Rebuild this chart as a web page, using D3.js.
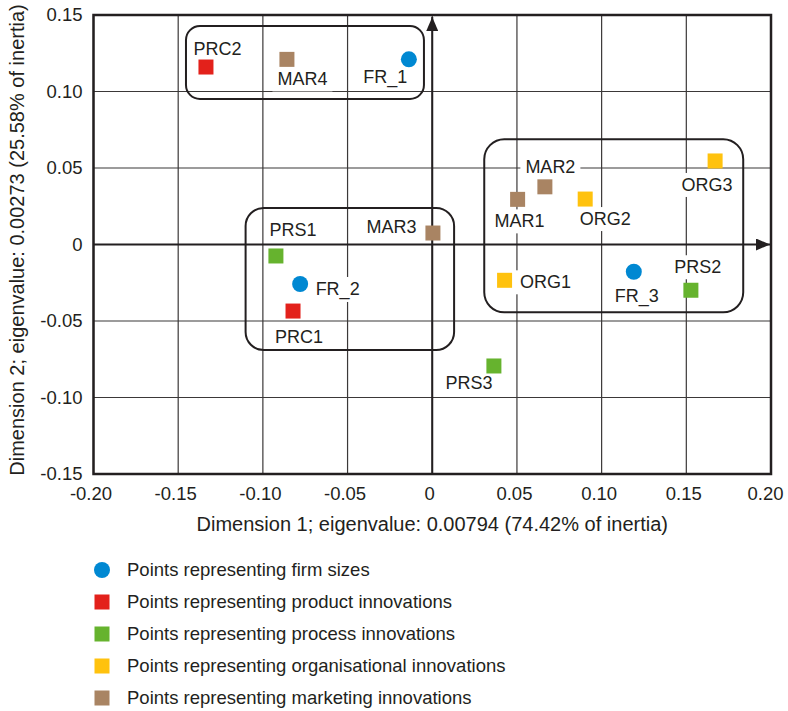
<!DOCTYPE html>
<html>
<head>
<meta charset="utf-8">
<script src="https://cdn.jsdelivr.net/npm/d3@7"></script>
<style>
  body { margin: 0; background: #fff; }
  svg text { font-family: Arial, "Liberation Sans", sans-serif; fill: #231f20; }
</style>
</head>
<body>
<div id="chart"></div>
<script>
// points of the correspondence map
var names = ["FR_1", "FR_2", "FR_3", "PRC1", "PRC2", "PRS1", "PRS2", "PRS3",
             "ORG1", "ORG2", "ORG3", "MAR1", "MAR2", "MAR3", "MAR4"];
var dim1 = [-0.0138, -0.078, 0.119, -0.0822, -0.1336, -0.0923, 0.1527, 0.0364,
            0.0427, 0.0903, 0.167, 0.0504, 0.0665, 0.0004, -0.0858];
var dim2 = [0.121, -0.0258, -0.0178, -0.0435, 0.116, -0.0075, -0.0299, -0.0794,
            -0.0234, 0.0297, 0.0546, 0.0295, 0.0377, 0.0075, 0.121];
var kinds = ["firm", "firm", "firm", "product", "product", "process", "process", "process",
             "org", "org", "org", "marketing", "marketing", "marketing", "marketing"];

var legendKeys = ["firm", "product", "process", "org", "marketing"];
var legendTexts = ["Points representing firm sizes",
                   "Points representing product innovations",
                   "Points representing process innovations",
                   "Points representing organisational innovations",
                   "Points representing marketing innovations"];

var xTicks = [-0.20, -0.15, -0.10, -0.05, 0, 0.05, 0.10, 0.15, 0.20];
var yTicks = [-0.15, -0.10, -0.05, 0, 0.05, 0.10, 0.15];

// grouping boxes [x0, x1, y0, y1] in data units
var boxes = [[-0.1454, -0.0049, 0.0951, 0.1428],
             [-0.1102, 0.0129, -0.0690, 0.0239],
             [0.0307, 0.1836, -0.0443, 0.0688]];

// layout only: where each label sits relative to its point (px)
var labelPos = {
  FR_1: [-23.5, 24], FR_2: [37.5, 11], FR_3: [3, 30],
  PRC1: [6, 32], PRC2: [11.5, -12],
  PRS1: [17, -20], PRS2: [7, -17], PRS3: [-25, 23],
  ORG1: [41, 8], ORG2: [20, 26], ORG3: [-8, 30],
  MAR1: [2, 28], MAR2: [5.5, -14], MAR3: [-41.5, 0], MAR4: [15.5, 26]
};
var boxRadius = [14, 18, 20];

var colors = { firm: "#0088d2", product: "#e3211b", process: "#66b32e",
               org: "#ffc20e", marketing: "#a98463" };
var ink = "#231f20";

var width = 788, height = 711;
var svg = d3.select("#chart").append("svg")
  .attr("width", width).attr("height", height);

var x = d3.scaleLinear().domain([-0.2, 0.2]).range([93.5, 771]);
var y = d3.scaleLinear().domain([-0.15, 0.15]).range([474, 15]);

var fmt = function(d) { return d === 0 ? "0" : d.toFixed(2); };

// grid
svg.append("g").selectAll("line").data(xTicks).enter().append("line")
  .attr("x1", function(d) { return x(d); }).attr("x2", function(d) { return x(d); })
  .attr("y1", y(0.15)).attr("y2", y(-0.15))
  .attr("stroke", "#3b3838").attr("stroke-width", 1.2);
svg.append("g").selectAll("line").data(yTicks).enter().append("line")
  .attr("y1", function(d) { return y(d); }).attr("y2", function(d) { return y(d); })
  .attr("x1", x(-0.2)).attr("x2", x(0.2))
  .attr("stroke", "#3b3838").attr("stroke-width", 1.2);

var pts = names.map(function(n, i) {
  return { name: n, x: dim1[i], y: dim2[i], kind: kinds[i] };
});

// label text (measured first, so white backgrounds can be placed behind)
var bgLayer = svg.append("g");
var axisLayer = svg.append("g");
var markLayer = svg.append("g");
var labelLayer = svg.append("g");

var labels = labelLayer.selectAll("text").data(pts).enter().append("text")
  .attr("x", function(d) { return x(d.x) + labelPos[d.name][0]; })
  .attr("y", function(d) { return y(d.y) + labelPos[d.name][1]; })
  .attr("text-anchor", "middle")
  .attr("font-size", 18)
  .text(function(d) { return d.name; });

labels.each(function() {
  var b = this.getBBox();
  bgLayer.append("rect")
    .attr("x", b.x - 5).attr("y", b.y - 2)
    .attr("width", b.width + 10).attr("height", b.height + 4)
    .attr("fill", "#fff");
});

// frame
axisLayer.append("rect")
  .attr("x", x(-0.2)).attr("y", y(0.15))
  .attr("width", x(0.2) - x(-0.2)).attr("height", y(-0.15) - y(0.15))
  .attr("fill", "none").attr("stroke", ink).attr("stroke-width", 2.5);

// zero axes with arrows
var defs = svg.append("defs");
defs.append("marker").attr("id", "arrow")
  .attr("viewBox", "0 0 14 12").attr("refX", 14).attr("refY", 6)
  .attr("markerWidth", 14).attr("markerHeight", 12)
  .attr("markerUnits", "userSpaceOnUse").attr("orient", "auto")
  .append("path").attr("d", "M0,0 L14,6 L0,12 Z").attr("fill", ink);

axisLayer.append("line")
  .attr("x1", x(-0.2)).attr("x2", 770)
  .attr("y1", y(0)).attr("y2", y(0))
  .attr("stroke", ink).attr("stroke-width", 2).attr("marker-end", "url(#arrow)");
axisLayer.append("line")
  .attr("x1", x(0)).attr("x2", x(0))
  .attr("y1", y(-0.15)).attr("y2", 17)
  .attr("stroke", ink).attr("stroke-width", 2).attr("marker-end", "url(#arrow)");

// group boxes
axisLayer.selectAll(".grp").data(boxes).enter().append("rect")
  .attr("class", "grp")
  .attr("x", function(d) { return x(d[0]); })
  .attr("y", function(d) { return y(d[3]); })
  .attr("width", function(d) { return x(d[1]) - x(d[0]); })
  .attr("height", function(d) { return y(d[2]) - y(d[3]); })
  .attr("rx", function(d, i) { return boxRadius[i]; })
  .attr("fill", "none").attr("stroke", ink).attr("stroke-width", 2);

// tick labels
var xAxis = svg.append("g").attr("transform", "translate(0," + y(-0.15) + ")")
  .call(d3.axisBottom(x).tickValues(xTicks).tickFormat(fmt).tickSize(0).tickPadding(13));
var yAxis = svg.append("g").attr("transform", "translate(" + x(-0.2) + ",0)")
  .call(d3.axisLeft(y).tickValues(yTicks).tickFormat(fmt).tickSize(0).tickPadding(11));
[xAxis, yAxis].forEach(function(a) {
  a.select(".domain").remove();
  a.selectAll("text").attr("font-size", 18.5).attr("fill", ink)
    .attr("font-family", "Arial, 'Liberation Sans', sans-serif");
});
xAxis.selectAll("text").attr("dx", function(d) { return d === 0.2 ? -6 : -3; });

// axis titles
svg.append("text")
  .attr("x", x(0)).attr("y", 531)
  .attr("text-anchor", "middle").attr("font-size", 20)
  .text("Dimension 1; eigenvalue: 0.00794 (74.42% of inertia)");
svg.append("text")
  .attr("transform", "translate(24," + 240 + ") rotate(-90)")
  .attr("text-anchor", "middle").attr("font-size", 20)
  .text("Dimension 2; eigenvalue: 0.00273 (25.58% of inertia)");

// points
var sq = 15;
markLayer.selectAll("rect").data(pts.filter(function(d) { return d.kind !== "firm"; }))
  .enter().append("rect")
  .attr("x", function(d) { return x(d.x) - sq / 2; })
  .attr("y", function(d) { return y(d.y) - sq / 2; })
  .attr("width", sq).attr("height", sq)
  .attr("fill", function(d) { return colors[d.kind]; });
markLayer.selectAll("circle").data(pts.filter(function(d) { return d.kind === "firm"; }))
  .enter().append("circle")
  .attr("cx", function(d) { return x(d.x); })
  .attr("cy", function(d) { return y(d.y); })
  .attr("r", 8)
  .attr("fill", colors.firm);

// legend
var legend = svg.append("g").attr("transform", "translate(102,570)");
var item = legend.selectAll("g").data(legendKeys).enter().append("g")
  .attr("transform", function(d, i) { return "translate(0," + (i * 32) + ")"; });
item.each(function(d) {
  var g = d3.select(this);
  if (d === "firm") {
    g.append("circle").attr("r", 8).attr("fill", colors[d]);
  } else {
    g.append("rect").attr("x", -sq / 2).attr("y", -sq / 2)
      .attr("width", sq).attr("height", sq).attr("fill", colors[d]);
  }
});
item.append("text")
  .attr("x", 25).attr("y", 0).attr("dy", "0.35em")
  .attr("font-size", 18.5)
  .text(function(d, i) { return legendTexts[i]; });
</script>
</body>
</html>
